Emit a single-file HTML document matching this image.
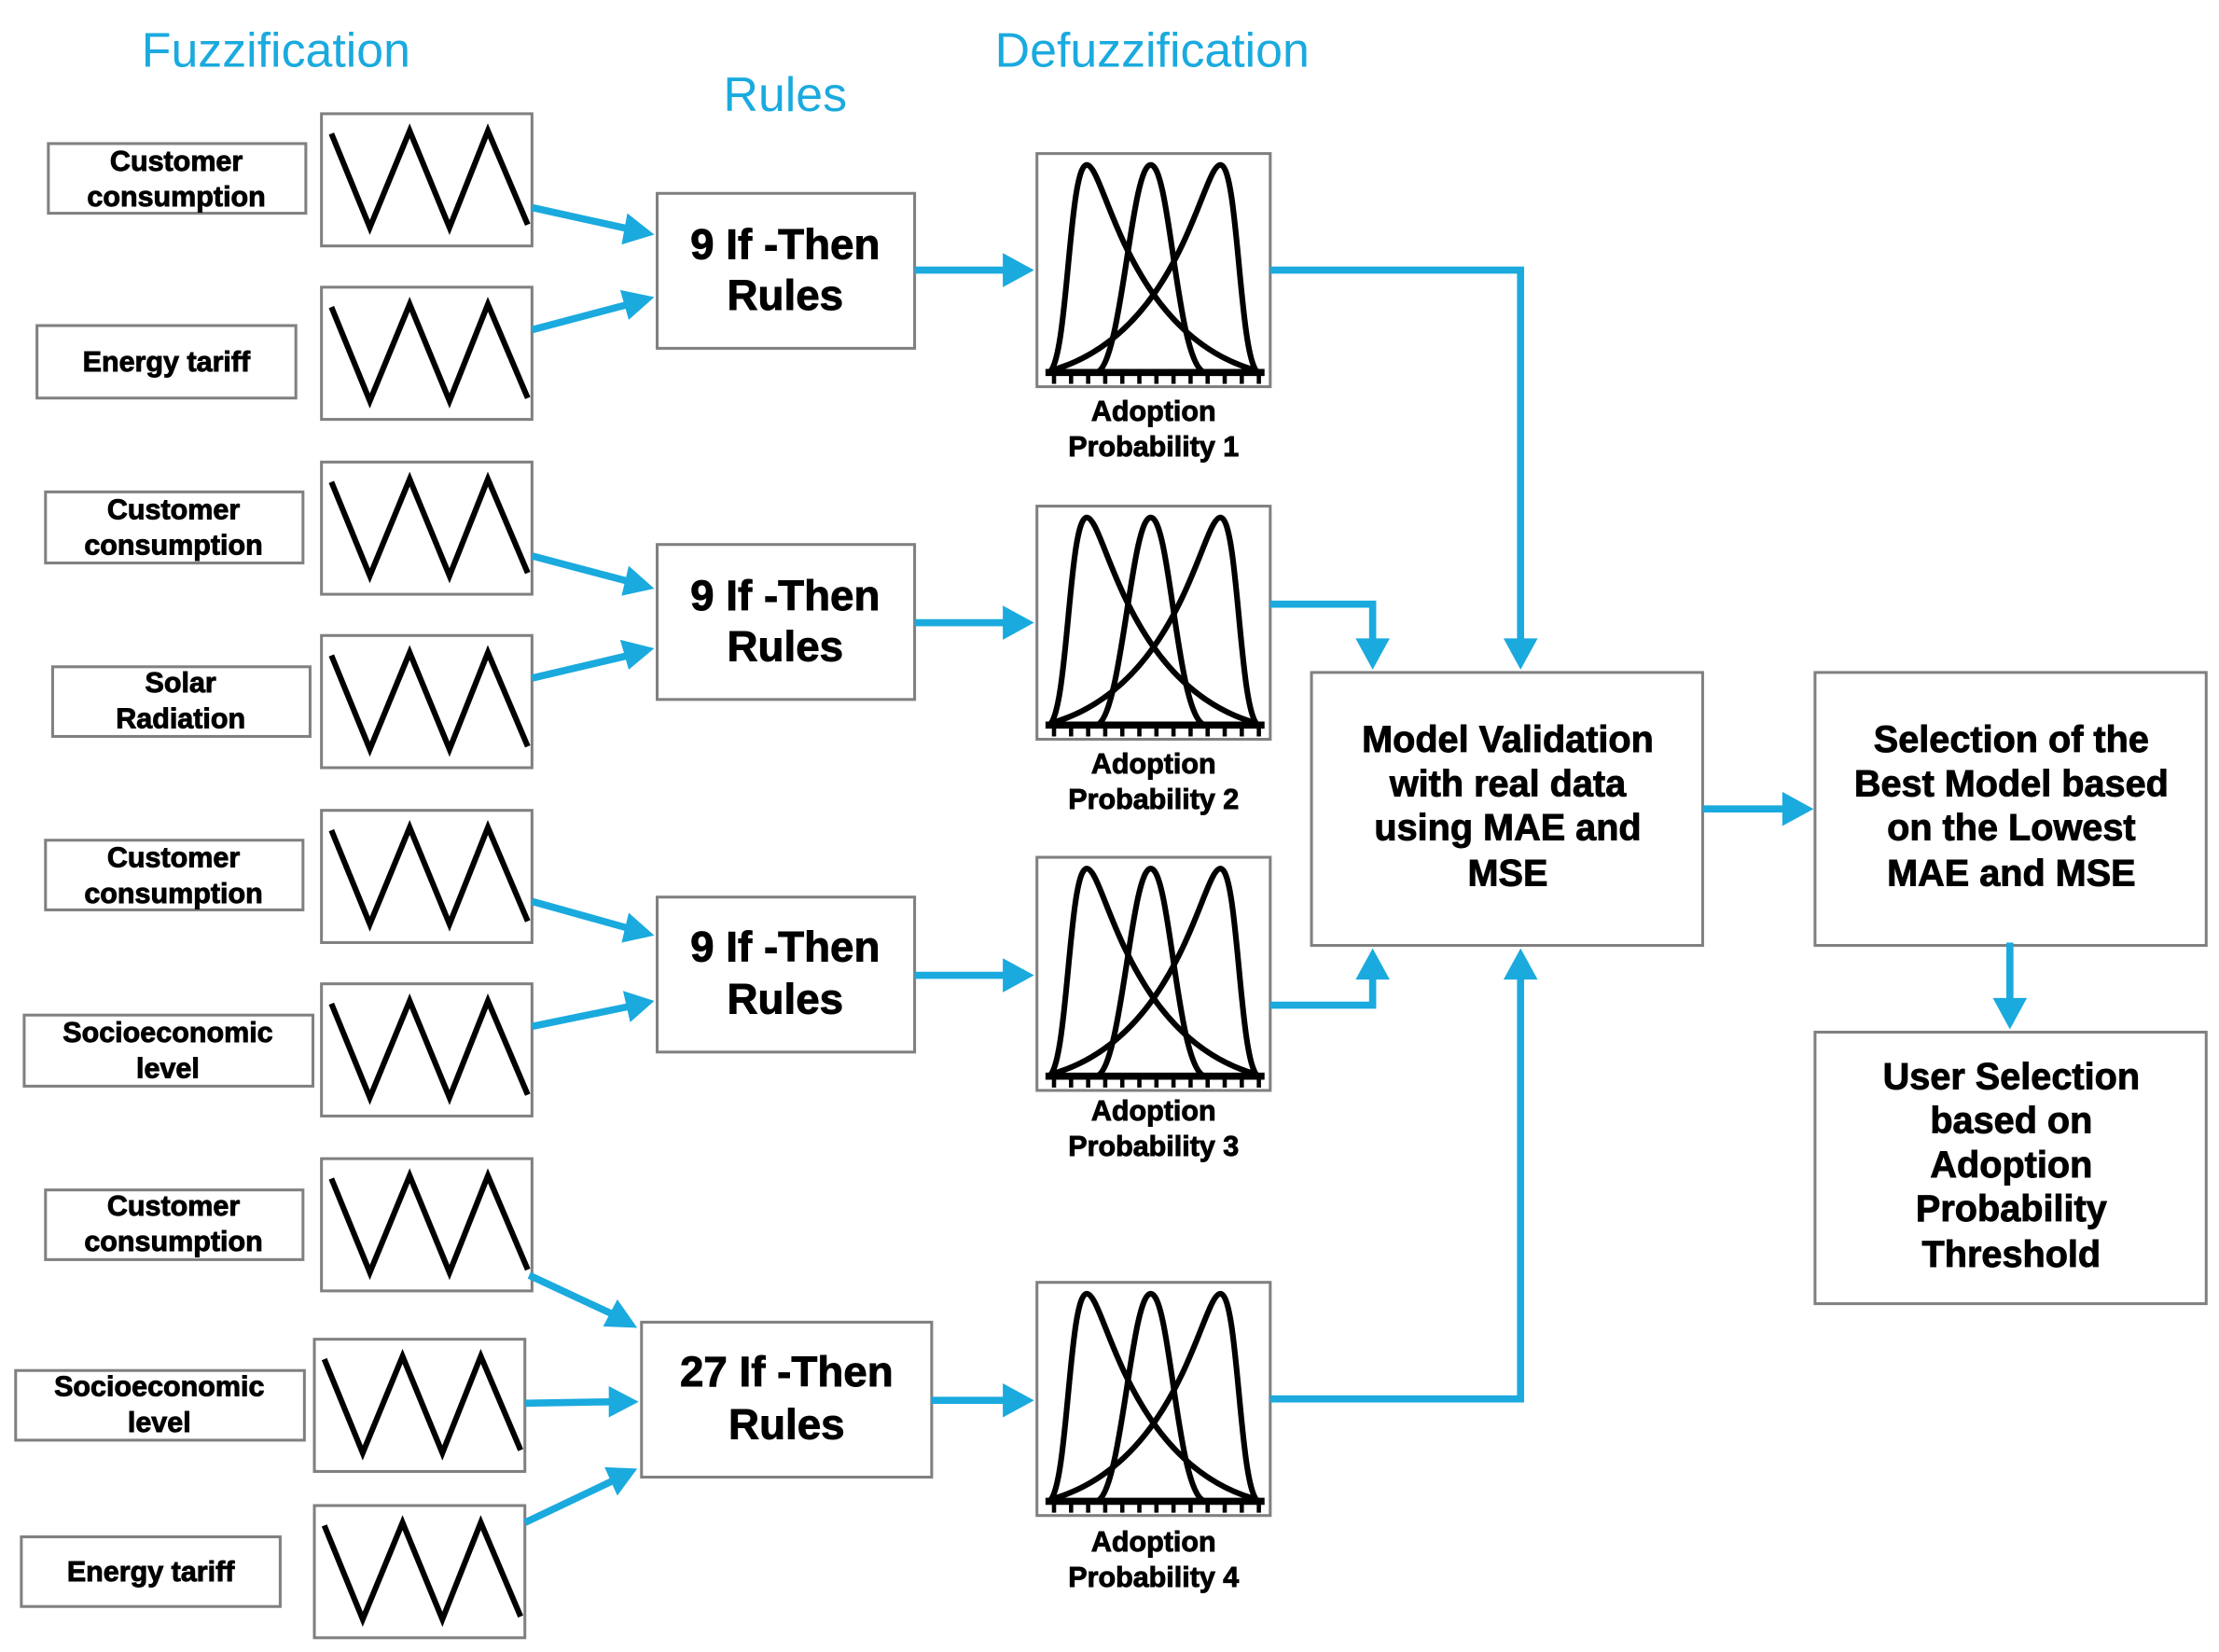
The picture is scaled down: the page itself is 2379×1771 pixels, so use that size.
<!DOCTYPE html>
<html><head><meta charset="utf-8"><style>
html,body{margin:0;padding:0;background:#fff}
svg{display:block}
text{font-family:"Liberation Sans",Arial,sans-serif}
.b{font-weight:bold;fill:#000;text-anchor:middle;stroke:#000;stroke-width:0.6}
.t{fill:#1aaade;text-anchor:middle;font-size:34px}
.bx{fill:#fff;stroke:#808080;stroke-width:2}
.ln{fill:none;stroke:#1aaade;stroke-width:5}
.ah{fill:#1aaade}
</style></head><body>
<svg width="2379" height="1771" viewBox="0 0 1560 1162" preserveAspectRatio="none" xmlns="http://www.w3.org/2000/svg">
<defs>
<g id="tri"><rect class="bx" x="0" y="0" width="148" height="93"/>
<polyline points="7,14 34,80 62,12 90,80 117,12 145,78" fill="none" stroke="#000" stroke-width="4" stroke-linejoin="miter"/></g>
<g id="bell"><rect class="bx" x="0" y="0" width="164" height="164"/>
<g fill="none" stroke="#000" stroke-width="4">
<path d="M8 154 C22 150 22 8 35 8 C48 8 62 125 152 152"/>
<path d="M156 154 C142 150 142 8 129 8 C116 8 102 125 12 152"/>
<path d="M42 154 C60 148 66 8 80 8 C94 8 98 148 118 154"/>
<line x1="6" y1="154" x2="160" y2="154" stroke-width="5"/>
<path d="M12 154v8M24 154v8M36 154v8M48 154v8M60 154v8M72 154v8M84 154v8M96 154v8M108 154v8M120 154v8M132 154v8M144 154v8M156 154v8" stroke-width="3"/>
</g></g>
</defs>

<text class="t" x="194" y="47">Fuzzification</text>
<text class="t" x="552" y="78">Rules</text>
<text class="t" x="810" y="47">Defuzzification</text>

<g font-size="20">
<rect class="bx" x="34" y="101" width="181" height="49"/><text class="b" x="124" y="120">Customer</text><text class="b" x="124" y="145">consumption</text>
<rect class="bx" x="26" y="229" width="182" height="51"/><text class="b" x="117" y="261">Energy tariff</text>
<rect class="bx" x="32" y="346" width="181" height="50"/><text class="b" x="122" y="365">Customer</text><text class="b" x="122" y="390">consumption</text>
<rect class="bx" x="37" y="469" width="181" height="49"/><text class="b" x="127" y="487">Solar</text><text class="b" x="127" y="512">Radiation</text>
<rect class="bx" x="32" y="591" width="181" height="49"/><text class="b" x="122" y="610">Customer</text><text class="b" x="122" y="635">consumption</text>
<rect class="bx" x="17" y="714" width="203" height="50"/><text class="b" x="118" y="733">Socioeconomic</text><text class="b" x="118" y="758">level</text>
<rect class="bx" x="32" y="837" width="181" height="49"/><text class="b" x="122" y="855">Customer</text><text class="b" x="122" y="880">consumption</text>
<rect class="bx" x="11" y="964" width="203" height="49"/><text class="b" x="112" y="982">Socioeconomic</text><text class="b" x="112" y="1007">level</text>
<rect class="bx" x="15" y="1081" width="182" height="49"/><text class="b" x="106" y="1112">Energy tariff</text>
</g>

<use href="#tri" x="226" y="80"/>
<use href="#tri" x="226" y="202"/>
<use href="#tri" x="226" y="325"/>
<use href="#tri" x="226" y="447"/>
<use href="#tri" x="226" y="570"/>
<use href="#tri" x="226" y="692"/>
<use href="#tri" x="226" y="815"/>
<use href="#tri" x="221" y="942"/>
<use href="#tri" x="221" y="1059"/>

<g font-size="30">
<rect class="bx" x="462" y="136" width="181" height="109"/><text class="b" x="552" y="182">9 If -Then</text><text class="b" x="552" y="218">Rules</text>
<rect class="bx" x="462" y="383" width="181" height="109"/><text class="b" x="552" y="429">9 If -Then</text><text class="b" x="552" y="465">Rules</text>
<rect class="bx" x="462" y="631" width="181" height="109"/><text class="b" x="552" y="676">9 If -Then</text><text class="b" x="552" y="713">Rules</text>
<rect class="bx" x="451" y="930" width="204" height="109"/><text class="b" x="553" y="975">27 If -Then</text><text class="b" x="553" y="1012">Rules</text>
</g>

<use href="#bell" x="729" y="108"/>
<use href="#bell" x="729" y="356"/>
<use href="#bell" x="729" y="603"/>
<use href="#bell" x="729" y="902"/>
<g font-size="20">
<text class="b" x="811" y="296">Adoption</text><text class="b" x="811" y="321">Probability 1</text>
<text class="b" x="811" y="544">Adoption</text><text class="b" x="811" y="569">Probability 2</text>
<text class="b" x="811" y="788">Adoption</text><text class="b" x="811" y="813">Probability 3</text>
<text class="b" x="811" y="1091">Adoption</text><text class="b" x="811" y="1116">Probability 4</text>
</g>

<g font-size="26">
<rect class="bx" x="922" y="473" width="275" height="192"/>
<text class="b" x="1060" y="529">Model Validation</text><text class="b" x="1060" y="560">with real data</text><text class="b" x="1060" y="591">using MAE and</text><text class="b" x="1060" y="623">MSE</text>
<rect class="bx" x="1276" y="473" width="275" height="192"/>
<text class="b" x="1414" y="529">Selection of the</text><text class="b" x="1414" y="560">Best Model based</text><text class="b" x="1414" y="591">on the Lowest</text><text class="b" x="1414" y="623">MAE and MSE</text>
<rect class="bx" x="1276" y="726" width="275" height="191"/>
<text class="b" x="1414" y="766">User Selection</text><text class="b" x="1414" y="797">based on</text><text class="b" x="1414" y="828">Adoption</text><text class="b" x="1414" y="859">Probability</text><text class="b" x="1414" y="891">Threshold</text>
</g>

<g class="ln">
<line x1="374" y1="146" x2="442" y2="161"/>
<line x1="374" y1="232" x2="442" y2="214"/>
<line x1="374" y1="391" x2="442" y2="409"/>
<line x1="374" y1="477" x2="442" y2="461"/>
<line x1="374" y1="634" x2="442" y2="653"/>
<line x1="374" y1="722" x2="442" y2="708"/>
<line x1="372" y1="897" x2="432" y2="925"/>
<line x1="369" y1="987" x2="430" y2="986"/>
<line x1="369" y1="1071" x2="432" y2="1041"/>
<line x1="643" y1="190" x2="708" y2="190"/>
<line x1="643" y1="438" x2="708" y2="438"/>
<line x1="643" y1="686" x2="708" y2="686"/>
<line x1="655" y1="985" x2="708" y2="985"/>
<polyline points="893,190 1069,190 1069,452"/>
<polyline points="893,425 965,425 965,452"/>
<polyline points="893,707 965,707 965,686"/>
<polyline points="893,984 1069,984 1069,686"/>
<line x1="1197" y1="569" x2="1256" y2="569"/>
<line x1="1413" y1="663" x2="1413" y2="706"/>
</g>
<g class="ah">
<polygon points="460,165 437,172 441,150"/>
<polygon points="460,209 442,225 436,204"/>
<polygon points="460,414 437,419 442,398"/>
<polygon points="460,456 442,471 436,450"/>
<polygon points="460,658 437,663 442,642"/>
<polygon points="460,704 443,719 438,697"/>
<polygon points="448,934 424,933 434,914"/>
<polygon points="449,986 428,997 428,975"/>
<polygon points="448,1033 434,1052 425,1032"/>
<polygon points="727,190 705,178 705,202"/>
<polygon points="727,438 705,426 705,450"/>
<polygon points="727,686 705,674 705,698"/>
<polygon points="727,985 705,973 705,997"/>
<polygon points="1069,471 1057,449 1081,449"/>
<polygon points="965,471 953,449 977,449"/>
<polygon points="965,667 953,689 977,689"/>
<polygon points="1069,667 1057,689 1081,689"/>
<polygon points="1275,569 1253,557 1253,581"/>
<polygon points="1413,724 1401,702 1425,702"/>
</g>
</svg>
</body></html>
